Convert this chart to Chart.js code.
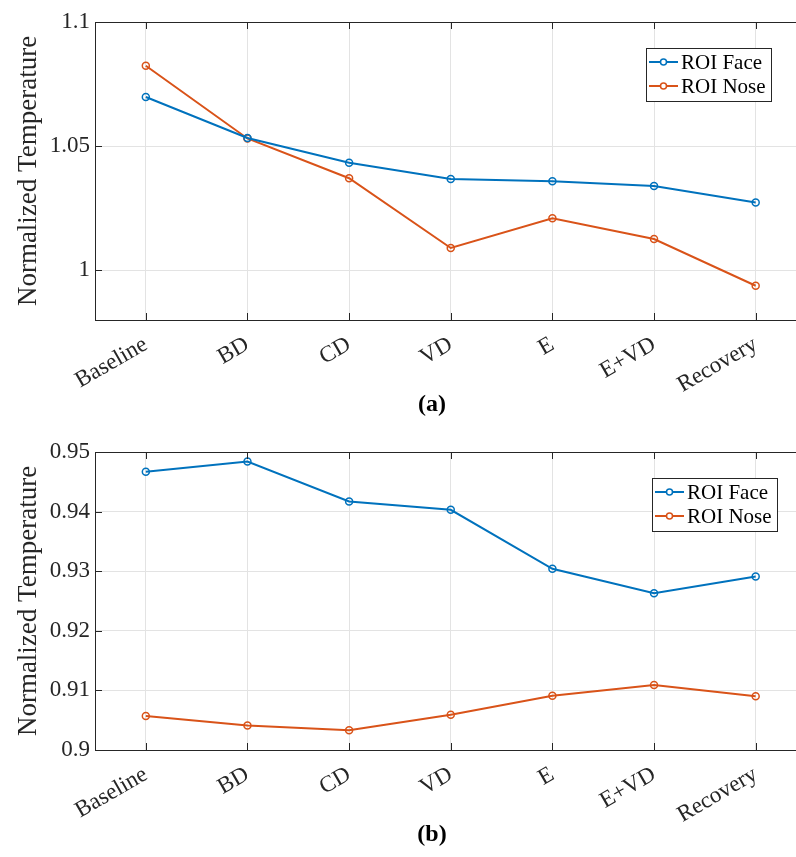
<!DOCTYPE html>
<html>
<head>
<meta charset="utf-8">
<script src="https://cdn.jsdelivr.net/npm/chart.js@4.4.1/dist/chart.umd.min.js"></script>
<style>
html, body { margin: 0; padding: 0; background: #fff; overflow: hidden; width: 796px; height: 857px; }
.panel { position: absolute; left: 0; width: 812px; }
</style>
</head>
<body>
<div class="panel" style="top:0;height:425px"><canvas id="chartA"></canvas></div>
<div class="panel" style="top:425px;height:432px"><canvas id="chartB"></canvas></div>
<script>
// conditions on the x axis
const conditions = ['Baseline', 'BD', 'CD', 'VD', 'E', 'E+VD', 'Recovery'];
const seriesNames = ['ROI Face', 'ROI Nose'];

// panel (a)
const faceA = [1.0698, 1.0533, 1.0433, 1.0368, 1.0359, 1.0340, 1.0273];
const noseA = [1.0824, 1.0531, 1.0371, 1.0090, 1.0210, 1.0126, 0.9938];
const ticksA = [1, 1.05, 1.1];
const tickLabelsA = ['1', '1.05', '1.1'];

// panel (b)
const faceB = [0.9467, 0.9484, 0.9417, 0.9403, 0.9304, 0.9263, 0.9291];
const noseB = [0.9057, 0.9041, 0.9033, 0.9059, 0.9091, 0.9109, 0.9090];
const ticksB = [0.9, 0.91, 0.92, 0.93, 0.94, 0.95];
const tickLabelsB = ['0.9', '0.91', '0.92', '0.93', '0.94', '0.95'];

const blue = '#0072BD';
const orange = '#D95319';
const axisColor = '#262626';
const serif = '"Liberation Serif", "DejaVu Serif", serif';

// MATLAB-ish frame, inward ticks, legend box and caption
const matlabLook = {
    id: 'matlabLook',
    afterDraw(chart, args, opts) {
        const ctx = chart.ctx;
        const a = chart.chartArea;
        const xs = chart.scales.x, ys = chart.scales.y;
        ctx.save();
        ctx.strokeStyle = axisColor;
        ctx.lineWidth = 1;
        ctx.strokeRect(a.left + 0.5, a.top + 0.5, a.right - a.left, a.bottom - a.top);
        ctx.beginPath();
        conditions.forEach((c, i) => {
            const x = Math.round(xs.getPixelForValue(i)) + 0.5;
            ctx.moveTo(x, a.top); ctx.lineTo(x, a.top + 7);
            ctx.moveTo(x, a.bottom); ctx.lineTo(x, a.bottom - 7);
        });
        ys.ticks.forEach(t => {
            const y = Math.round(ys.getPixelForValue(t.value)) + 0.5;
            ctx.moveTo(a.left, y); ctx.lineTo(a.left + 7, y);
        });
        ctx.stroke();

        // legend
        const lx = a.left + opts.legendLeft, ly = a.top + opts.legendTop;
        ctx.fillStyle = '#fff';
        ctx.fillRect(lx, ly, 125, 53);
        ctx.strokeStyle = axisColor;
        ctx.strokeRect(lx + 0.5, ly + 0.5, 125, 53);
        ctx.font = '21px ' + serif;
        ctx.textBaseline = 'middle';
        ctx.textAlign = 'left';
        chart.data.datasets.forEach((ds, i) => {
            const cy = ly + 14 + i * 24;
            ctx.strokeStyle = ds.borderColor;
            ctx.lineWidth = 2;
            ctx.beginPath();
            ctx.moveTo(lx + 3, cy); ctx.lineTo(lx + 32, cy);
            ctx.stroke();
            ctx.lineWidth = 1.5;
            ctx.beginPath();
            ctx.arc(lx + 17.5, cy, 3, 0, Math.PI * 2);
            ctx.fillStyle = '#fff';
            ctx.fill();
            ctx.stroke();
            ctx.fillStyle = '#000';
            ctx.fillText(ds.label, lx + 35, cy + 1);
        });

        // caption
        ctx.font = 'bold 24px ' + serif;
        ctx.textAlign = 'center';
        ctx.fillStyle = '#000';
        ctx.fillText(opts.caption, 432, opts.captionY);
        ctx.restore();
    }
};

function makeChart(id, face, nose, yMin, yMax, yTicks, yTickLabels, look, padTop, padBottom) {
    const ctx = document.getElementById(id).getContext('2d');
    const series = [face, nose];
    const colors = [blue, orange];
    return new Chart(ctx, {
        type: 'line',
        data: {
            labels: conditions,
            datasets: series.map((values, i) => ({
                label: seriesNames[i],
                data: values,
                borderColor: colors[i],
                borderWidth: 2,
                pointRadius: 3.5,
                pointBorderWidth: 1.5,
                pointBackgroundColor: 'rgba(255,255,255,0)',
                pointBorderColor: colors[i],
                tension: 0,
                fill: false
            }))
        },
        options: {
            responsive: true,
            maintainAspectRatio: false,
            animation: false,
            layout: { padding: { left: 0, right: 5, top: padTop, bottom: padBottom } },
            plugins: {
                legend: { display: false },
                tooltip: { enabled: false },
                matlabLook: look
            },
            scales: {
                x: {
                    type: 'category',
                    offset: true,
                    border: { display: false },
                    grid: { color: '#e3e3e3', drawTicks: false, offset: false },
                    ticks: {
                        color: axisColor,
                        font: { family: serif, size: 23 },
                        minRotation: 30,
                        maxRotation: 30,
                        autoSkip: false,
                        padding: 11
                    },
                    afterFit(axis) { axis.height = 100; }
                },
                y: {
                    min: yMin,
                    max: yMax,
                    border: { display: false },
                    grid: { color: '#e3e3e3', drawTicks: false },
                    afterBuildTicks(axis) { axis.ticks = yTicks.map(v => ({ value: v })); },
                    ticks: {
                        color: axisColor,
                        font: { family: serif, size: 23 },
                        padding: 5,
                        callback: (v) => yTickLabels[yTicks.indexOf(v)]
                    },
                    title: {
                        display: true,
                        text: 'Normalized Temperature',
                        color: axisColor,
                        font: { family: serif, size: 27 },
                        padding: { top: 13, bottom: 0 }
                    },
                    afterFit(axis) { axis.width = 95; }
                }
            }
        },
        plugins: [matlabLook]
    });
}

makeChart('chartA', faceA, noseA, 0.98, 1.1, ticksA, tickLabelsA,
    { legendLeft: 551, legendTop: 26, caption: '(a)', captionY: 405 }, 22, 5);
makeChart('chartB', faceB, noseB, 0.9, 0.95, ticksB, tickLabelsB,
    { legendLeft: 557, legendTop: 26, caption: '(b)', captionY: 410 }, 27, 7);
</script>
</body>
</html>
